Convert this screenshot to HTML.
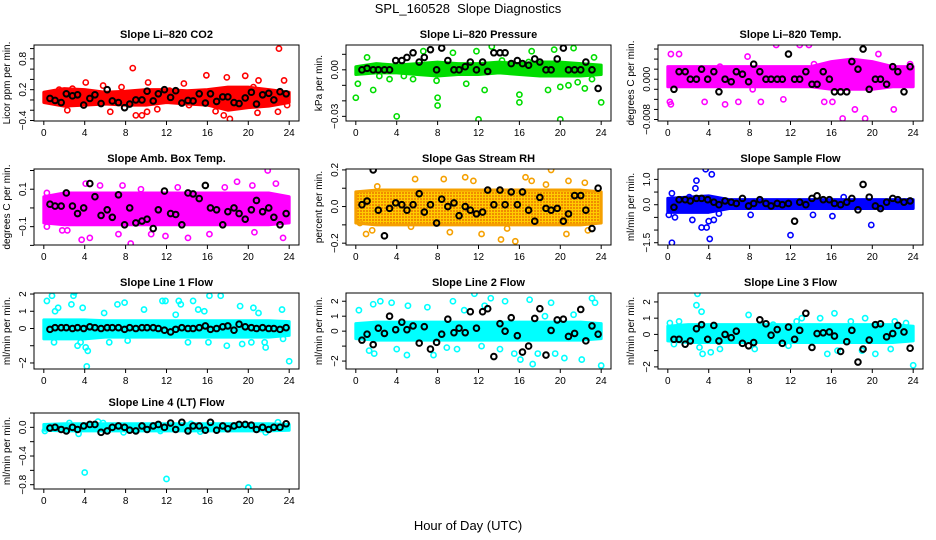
<!DOCTYPE html>
<html><head><meta charset="utf-8"><style>
body{margin:0;background:#fff;}
svg{display:block;font-family:"Liberation Sans",sans-serif;}
</style></head><body>
<svg id="c" width="936" height="540" viewBox="0 0 936 540">
<defs>
<pattern id="rhpat" width="3" height="3" patternUnits="userSpaceOnUse">
<rect width="3" height="3" fill="#ffcc00"/>
<rect width="2" height="2" fill="#f08c00"/>
</pattern>
</defs>
<rect width="936" height="540" fill="#fff"/>
<text x="468" y="13" text-anchor="middle" font-size="13" xml:space="preserve" style="white-space:pre">SPL_160528  Slope Diagnostics</text>
<text x="468" y="530" text-anchor="middle" font-size="13">Hour of Day (UTC)</text>
</svg>
<script>
const xTicks=[0,4,8,12,16,20,24];
const bandHours=[0,2,4,6,8,10,12,14,16,18,20,22,24];
const blkHours=[0.6,1.1,1.7,2.2,2.8,3.3,3.9,4.5,5.0,5.6,6.2,6.7,7.3,7.9,8.4,9.0,9.6,10.1,10.7,11.2,11.8,12.4,12.9,13.5,14.1,14.6,15.2,15.8,16.3,16.9,17.5,18.0,18.6,19.1,19.7,20.3,20.8,21.4,22.0,22.5,23.1,23.7];

const co2Out=[[8.7,0.62],[15.9,0.48],[23,1.0],[19.7,0.47],[17.9,0.44],[21,0.38],[23.5,0.38],[4.1,0.34],[10.2,0.34],[13.7,0.32],[9,-0.3],[9.6,-0.3],[18.2,-0.37],[17.6,-0.3],[22.9,-0.23],[6.5,-0.23],[10.1,-0.23],[2.3,-0.2],[16.8,-0.22],[1.5,0.2],[2.8,0.22],[20.5,0.25],[23.8,-0.1],[12.3,0.18],[20.9,-0.25],[14.2,-0.1],[11.1,-0.18],[5.8,0.28],[7.6,0.25]];
const co2Lo=[-0.05,-0.12,-0.1,-0.08,-0.1,-0.1,-0.05,-0.08,-0.1,-0.2,-0.15,-0.12,-0.05];
const co2Hi=[0.15,0.22,0.2,0.15,0.17,0.2,0.2,0.18,0.2,0.25,0.25,0.2,0.15];
const co2Blk=[0.03,-0.01,-0.05,0.12,0.08,0.1,-0.1,0.03,0.1,-0.07,0.2,-0.02,-0.05,-0.15,-0.08,0.0,0.0,0.17,-0.02,0.12,0.2,0.05,0.18,-0.06,-0.01,-0.02,0.12,-0.06,0.12,-0.03,0.06,0.06,-0.05,-0.07,0.04,0.15,-0.08,0.1,0.13,0.0,0.16,0.12];

const presOut=[[0,-0.018],[0.2,-0.009],[1.7,-0.013],[4,-0.03],[8,-0.018],[8,-0.023],[7.9,-0.007],[12,-0.032],[12.6,-0.013],[16,-0.016],[16,-0.021],[18.8,-0.013],[20,-0.032],[24,-0.021],[20,-0.011],[10.8,-0.009],[22.4,-0.012],[13.3,0.015],[11.8,0.012],[17.2,0.012],[19.4,0.013],[21.3,0.014],[9.5,0.011],[6.6,0.012],[23.3,0.008],[5.6,-0.006],[2.3,-0.004],[3.3,-0.006],[1.1,0.008],[4.7,-0.004],[14.3,0.006],[16.9,0.005],[20.8,-0.01],[21.7,-0.008],[23.1,-0.006]];
const presLo=[-0.003,-0.002,-0.002,-0.003,-0.004,-0.003,-0.003,-0.002,-0.003,-0.004,-0.004,-0.004,-0.003];
const presHi=[0.002,0.004,0.003,0.004,0.005,0.004,0.004,0.005,0.004,0.005,0.005,0.004,0.003];
const presBlk=[0.0,0.001,0.0,0.0,0.0,0.0,0.006,0.006,0.008,0.011,0.005,0.008,0.013,0.0,0.014,0.006,0.0,0.0,0.002,0.005,0.0,0.005,-0.001,0.011,0.011,0.011,0.004,0.006,0.004,0.003,0.007,0.005,0.0,0.0,0.007,0.014,0.0,0.0,0.0,0.005,0.0,-0.012];

const tempOut=[[0.3,0.005],[0.3,-0.005],[0.2,-0.0045],[6.9,-0.0045],[5.6,-0.005],[2.6,-0.001],[8.3,-0.002],[9.1,-0.0045],[12.9,0.0068],[13.8,0.0068],[10.6,0.0068],[1.1,0.005],[17.1,-0.0078],[19.3,-0.0078],[22.1,-0.006],[20.6,0.005],[15.3,-0.0045],[16.1,-0.0045],[17.9,0.003],[7.8,0.0045],[5.1,0.0025],[3.6,-0.0045],[14.3,0.003],[23.7,0.003],[18.3,-0.006],[11.3,-0.004]];
const tempLo=[-0.0015,-0.0015,-0.0015,-0.0015,-0.0015,-0.0015,-0.0015,-0.0015,-0.002,-0.002,-0.002,-0.0015,-0.0015];
const tempHi=[0.0025,0.0025,0.0025,0.0025,0.0025,0.0025,0.0025,0.0025,0.0035,0.004,0.0035,0.0025,0.0025];
const tempBlk=[-0.002,0.0015,0.0015,0.0,0.0,0.002,0.0,0.0015,-0.0025,0.0,-0.0005,0.0015,0.001,-0.0005,0.003,0.0015,0.0,0.0,0.0,0.0,0.005,0.0,0.0,0.0015,-0.001,-0.001,0.0015,0.0,-0.0025,-0.0025,-0.0025,0.0035,0.002,0.006,-0.002,0.0,0.0,-0.001,0.0025,0.0015,-0.0025,0.0025];

const ambOut=[[4.1,0.13],[21.9,0.2],[18.9,0.14],[3.7,-0.17],[8.5,-0.19],[4.5,-0.16],[7.3,-0.14],[10.5,-0.14],[11.9,-0.15],[14.1,-0.16],[23.4,-0.16],[16.2,-0.14],[20.6,-0.13],[0.3,-0.1],[1.8,-0.12],[2.3,-0.12],[0.3,0.08],[5.5,0.12],[7.7,0.12],[13.1,0.11],[17.7,0.11],[20.4,0.12],[22.7,0.13],[9.5,0.1]];
const ambLo=[-0.08,-0.09,-0.09,-0.09,-0.09,-0.09,-0.09,-0.09,-0.09,-0.09,-0.09,-0.09,-0.08];
const ambHi=[0.06,0.08,0.08,0.08,0.08,0.08,0.08,0.08,0.08,0.08,0.08,0.08,0.06];
const ambBlk=[0.02,0.01,0.01,0.08,0.01,-0.03,0.0,0.13,0.06,-0.04,-0.01,-0.05,0.07,-0.09,0.0,-0.08,-0.07,-0.06,-0.11,-0.01,0.09,-0.03,-0.035,-0.09,0.08,0.075,0.05,0.12,0.0,-0.01,-0.09,-0.02,0.0,-0.03,-0.06,-0.01,0.04,-0.02,0.0,-0.05,-0.09,-0.03];

const rhOut=[[1.6,-0.13],[1.0,-0.15],[5.4,-0.11],[5.8,0.15],[8.6,0.15],[10.7,0.16],[11.5,0.14],[12.3,-0.15],[14.2,-0.18],[15.6,-0.19],[16.6,0.16],[19.1,0.2],[20.6,-0.15],[20.8,0.14],[22.4,0.13],[22.7,-0.13],[9.2,-0.14],[14.8,-0.12],[18.6,0.12],[17.2,0.14],[0.4,-0.09],[2.1,0.11]];
const rhLo=[-0.09,-0.1,-0.1,-0.1,-0.1,-0.1,-0.1,-0.1,-0.1,-0.1,-0.1,-0.1,-0.09];
const rhHi=[0.08,0.09,0.09,0.09,0.09,0.09,0.09,0.09,0.09,0.09,0.09,0.09,0.08];
const rhBlk=[0.01,0.03,0.2,-0.02,-0.16,-0.01,0.02,0.01,-0.02,0.01,0.07,-0.03,0.01,-0.09,0.04,0.0,0.02,-0.05,0.0,-0.02,-0.04,-0.03,0.09,0.01,0.09,0.01,0.08,0.01,0.08,-0.02,-0.08,0.05,-0.01,-0.02,-0.01,-0.08,-0.04,0.06,0.06,-0.02,-0.12,0.1];

const sampOut=[[0.4,-1.5],[0.1,-0.4],[0.4,0.45],[2.4,-0.6],[2.7,0.65],[2.8,0.95],[3.3,-0.9],[3.7,1.4],[3.8,-0.9],[4,-0.65],[4.1,-1.35],[4.3,1.2],[4.5,-0.6],[12,-1.2],[19.9,-0.8],[16.1,-0.45],[14.2,-0.4],[8.1,-0.4],[17.2,0.3],[0.7,-0.5],[2.1,0.3],[5.0,-0.35]];
const sampLo=[-0.3,-0.3,-0.3,-0.15,-0.15,-0.15,-0.15,-0.15,-0.15,-0.15,-0.15,-0.15,-0.15];
const sampHi=[0.25,0.3,0.35,0.2,0.2,0.2,0.2,0.2,0.2,0.2,0.2,0.2,0.2];
const sampBlk=[-0.1,0.2,0.2,0.15,0.25,0.25,0.2,0.1,0.0,0.15,0.1,0.05,0.25,-0.05,0.05,0.2,0.05,-0.05,0.05,0.0,0.05,-0.65,0.1,0.0,0.25,0.35,0.2,0.2,0.05,0.0,0.1,0.25,-0.2,0.8,0.3,-0.05,-0.15,0.1,0.25,0.2,0.1,0.15];

const l1Out=[[0.3,1.6],[0.8,1.9],[1.1,1.0],[1.4,1.2],[2.7,1.4],[2.9,1.9],[3.0,2.1],[3.3,-1.0],[3.6,-0.8],[3.8,1.2],[4.1,-1.1],[4.2,-2.2],[4.3,-1.3],[5.9,0.9],[7.2,1.4],[7.9,1.5],[6.4,-0.8],[8.2,-0.7],[9.8,1.1],[11.6,1.6],[11.9,1.6],[13.2,1.6],[13.4,1.4],[14.6,1.6],[14.1,-0.8],[15.1,1.1],[15.7,1.0],[16.2,1.9],[17.3,1.9],[17.9,-1.0],[19.2,1.3],[19.4,-0.9],[20.5,1.2],[20.3,-0.8],[21,0.9],[21.6,-0.8],[21.7,-1.1],[23.3,1.1],[23.4,-0.6],[24,-1.9],[1.0,-0.8],[12.9,0.8],[16.1,-0.8]];
const l1Lo=[-0.6,-0.6,-0.6,-0.5,-0.5,-0.5,-0.5,-0.5,-0.5,-0.5,-0.5,-0.5,-0.4];
const l1Hi=[0.5,0.5,0.5,0.45,0.45,0.45,0.45,0.45,0.45,0.45,0.45,0.45,0.4];
const l1Blk=[-0.05,0.05,0.05,0.05,0.0,0.05,0.0,0.1,0.05,0.0,0.05,0.05,0.05,-0.05,0.05,0.0,0.05,0.05,0.05,0.0,-0.1,-0.2,-0.05,0.05,0.0,0.0,0.05,0.15,-0.05,0.0,0.1,0.15,-0.1,0.25,0.1,0.05,0.0,0.05,0.0,0.0,-0.05,0.05];

const l2Out=[[0.3,1.4],[1.7,1.8],[2.4,2.0],[3.5,1.9],[4.0,-1.2],[5.0,-1.6],[5.1,1.7],[7.0,1.6],[7.6,-1.6],[9.5,2.0],[9.9,-1.2],[11.6,2.5],[12.6,1.7],[13.2,2.2],[14.1,-1.2],[14.6,2.0],[16.1,-1.9],[17.0,2.1],[17.3,-2.2],[17.8,-1.5],[19.1,1.9],[19.5,-1.5],[20.4,-1.8],[22.1,-1.9],[23.1,2.2],[23.4,1.9],[24,-2.3],[1.3,-1.3],[1.8,-1.5],[8.9,-1.1],[10.6,1.4],[12.3,-1.0],[15.5,-1.5],[21.3,1.1],[18.5,1.0]];
const l2Lo=[-0.5,-0.6,-0.6,-0.6,-0.6,-0.6,-0.6,-0.6,-0.6,-0.6,-0.6,-0.6,-0.5];
const l2Hi=[0.5,0.6,0.6,0.6,0.6,0.6,0.6,0.6,0.6,0.6,0.6,0.6,0.5];
const l2Blk=[-0.6,-0.2,-0.9,0.2,-0.15,1.0,0.1,0.6,0.1,0.35,-0.8,0.3,-1.2,-0.75,-0.2,0.8,-0.1,0.2,-0.1,1.3,0.2,1.3,1.5,-1.7,0.5,0.0,0.9,-0.3,-1.4,-1.0,0.85,1.5,-1.6,0.05,0.75,0.8,-0.35,-0.15,1.45,-0.65,0.35,-0.2];

const l3Out=[[2.8,1.8],[2.9,2.5],[3.3,1.4],[3.4,-1.2],[3.1,-0.8],[4.2,-1.1],[5.1,-0.9],[0.2,0.7],[0.6,-0.6],[7.9,1.2],[8.5,-0.9],[15.6,-1.2],[16.3,1.3],[16.6,-1.0],[19.0,-1.0],[19.3,1.0],[20.3,-1.2],[21.8,-0.9],[22.2,0.8],[23.3,0.7],[24,-1.9],[14.9,1.0],[13.1,1.0],[11.8,-0.7],[10.3,0.6],[1.1,0.8],[17.9,0.8],[12.6,0.8]];
const l3Lo=[-0.4,-0.5,-0.5,-0.5,-0.5,-0.5,-0.5,-0.5,-0.5,-0.5,-0.5,-0.5,-0.4];
const l3Hi=[0.5,0.6,0.6,0.6,0.6,0.6,0.6,0.6,0.6,0.6,0.6,0.6,0.5];
const l3Blk=[-0.3,-0.3,-0.6,-0.4,0.35,0.6,-0.3,0.55,-0.4,0.0,-0.2,0.2,-0.55,-0.7,-0.5,0.9,0.65,-0.05,0.3,-0.55,0.45,-0.3,0.25,1.3,-0.8,0.05,0.1,0.15,-0.1,-1.05,-0.45,0.25,-1.7,-0.9,-0.35,0.6,0.65,-0.15,0.05,0.55,0.15,-0.85];

const l4Out=[[4,-0.63],[12,-0.72],[20,-0.84],[3.4,-0.09],[5.3,0.08],[5.8,0.06],[7.8,-0.07],[9,-0.04],[11.4,-0.05],[15.3,-0.06],[21.7,-0.07],[22.9,0.07],[2.5,0.06],[0.1,-0.05],[14.4,0.05]];
const l4Lo=[-0.04,-0.05,-0.05,-0.05,-0.05,-0.05,-0.05,-0.05,-0.05,-0.05,-0.05,-0.05,-0.04];
const l4Hi=[0.04,0.05,0.05,0.05,0.05,0.05,0.05,0.05,0.05,0.05,0.05,0.05,0.04];
const l4Blk=[-0.01,0.0,-0.03,-0.05,0.0,-0.03,0.02,0.04,0.04,-0.07,-0.05,0.0,0.02,0.0,-0.04,-0.05,0.02,-0.03,0.02,0.04,0.0,0.06,-0.03,0.07,-0.05,0.02,0.02,-0.04,0.07,-0.04,0.02,-0.02,0.02,0.04,0.04,0.03,-0.03,0.0,-0.03,0.0,0.0,0.05];

const panels=[
 {id:'co2',title:'Slope Li-820 CO2',yl:'Licor ppm per min.',col:0,row:0,ymin:-0.41,ymax:1.07,ticks:[-0.4,-0.2,0,0.2,0.4,0.6,0.8,1.0],labs:[-0.4,0.2,0.8],dec:1,color:'#ff0000',fill:'#ff0000',out:co2Out,lo:co2Lo,hi:co2Hi,blk:co2Blk},
 {id:'pressure',title:'Slope Li-820 Pressure',yl:'kPa per min.',col:1,row:0,ymin:-0.033,ymax:0.016,ticks:[-0.03,-0.02,-0.01,0,0.01],labs:[-0.03,0],dec:2,color:'#00dd00',fill:'#00dd00',out:presOut,lo:presLo,hi:presHi,blk:presBlk},
 {id:'temp',title:'Slope Li-820 Temp.',yl:'degrees C per min.',col:2,row:0,ymin:-0.0083,ymax:0.0068,ticks:[-0.008,-0.006,-0.004,-0.002,0,0.002,0.004,0.006],labs:[-0.008,0],dec:3,color:'#ff00ff',fill:'#ff00ff',out:tempOut,lo:tempLo,hi:tempHi,blk:tempBlk},
 {id:'ambbox',title:'Slope Amb. Box Temp.',yl:'degrees C per min.',col:0,row:1,ymin:-0.198,ymax:0.208,ticks:[-0.2,-0.1,0,0.1,0.2],labs:[-0.1,0.1],dec:1,color:'#ff00ff',fill:'#ff00ff',out:ambOut,lo:ambLo,hi:ambHi,blk:ambBlk},
 {id:'rh',title:'Slope Gas Stream RH',yl:'percent per min.',col:1,row:1,ymin:-0.21,ymax:0.205,ticks:[-0.2,-0.1,0,0.1,0.2],labs:[-0.2,0,0.2],dec:1,color:'#f5a000',fill:'url(#rhpat)',out:rhOut,lo:rhLo,hi:rhHi,blk:rhBlk},
 {id:'sample',title:'Slope Sample Flow',yl:'ml/min per min.',col:2,row:1,ymin:-1.59,ymax:1.41,ticks:[-1.5,-1,-0.5,0,0.5,1],labs:[-1.5,0,1],dec:1,color:'#0000ff',fill:'#0000ff',out:sampOut,lo:sampLo,hi:sampHi,blk:sampBlk},
 {id:'line1',title:'Slope Line 1 Flow',yl:'ml/min per min.',col:0,row:2,ymin:-2.35,ymax:2.06,ticks:[-2,-1,0,1,2],labs:[-2,0,1,2],dec:0,color:'#00ffff',fill:'#00ffff',out:l1Out,lo:l1Lo,hi:l1Hi,blk:l1Blk},
 {id:'line2',title:'Slope Line 2 Flow',yl:'ml/min per min.',col:1,row:2,ymin:-2.53,ymax:2.55,ticks:[-2,-1,0,1,2],labs:[-2,0,1,2],dec:0,color:'#00ffff',fill:'#00ffff',out:l2Out,lo:l2Lo,hi:l2Hi,blk:l2Blk},
 {id:'line3',title:'Slope Line 3 Flow',yl:'ml/min per min.',col:2,row:2,ymin:-2.13,ymax:2.55,ticks:[-2,-1,0,1,2],labs:[-2,0,1,2],dec:0,color:'#00ffff',fill:'#00ffff',out:l3Out,lo:l3Lo,hi:l3Hi,blk:l3Blk},
 {id:'line4',title:'Slope Line 4 (LT) Flow',yl:'ml/min per min.',col:0,row:3,ymin:-0.86,ymax:0.2,ticks:[-0.8,-0.6,-0.4,-0.2,0,0.2],labs:[-0.8,-0.4,0],dec:1,color:'#00ffff',fill:'#00ffff',out:l4Out,lo:l4Lo,hi:l4Hi,blk:l4Blk}
];
const colLeft=[34,346,658], rowTop=[45,169,293,413], PW=265, PH=76;
const NS='http://www.w3.org/2000/svg';
const svg=document.getElementById('c');
function mk(tag,at,parent){const e=document.createElementNS(NS,tag);for(const k in at)e.setAttribute(k,at[k]);(parent||svg).appendChild(e);return e;}
function fmt(v,d){return (v<0?'\u2212':'')+Math.abs(v).toFixed(d);}
panels.forEach(p=>{
  const L=colLeft[p.col],T=rowTop[p.row];
  const xs=h=>L+(h+0.96)/25.92*PW;
  const ys=v=>T+PH-(v-p.ymin)/(p.ymax-p.ymin)*PH;
  const g=mk('g',{});
  
  
  const clip=mk('clipPath',{id:'cl-'+p.id},g);
  mk('rect',{x:L,y:T,width:PW,height:PH},clip);
  const t=mk('text',{x:L+PW/2,y:T-7,'text-anchor':'middle','font-size':11,'font-weight':'bold'},g);
  t.textContent=p.title.replace(/-/g,'\u2013');
  
  
  const yl=mk('text',{x:0,y:0,'text-anchor':'middle','font-size':10,transform:`translate(${L-24},${T+PH/2}) rotate(-90)`},g);
  yl.textContent=p.yl;
  
  
  const plot=mk('g',{'clip-path':`url(#cl-${p.id})`},g);
  let pts=bandHours.map((h,i)=>xs(h)+','+ys(p.hi[i]));
  pts=pts.concat(bandHours.map((h,i)=>xs(h)+','+ys(p.lo[i])).reverse());
  const band=mk('polygon',{points:pts.join(' '),fill:p.fill,stroke:p.color,'stroke-width':3,'stroke-linejoin':'round'},plot);
  
  
  p.out.forEach(d=>{
    const c=mk('circle',{cx:xs(d[0]),cy:ys(d[1]),r:2.6,fill:'none',stroke:p.color,'stroke-width':1.6},plot);
    
    
  });
  const n=Math.min(blkHours.length,p.blk.length);
  for(let i=0;i<n;i++){
    const c=mk('circle',{cx:xs(blkHours[i]),cy:ys(p.blk[i]),r:2.8,fill:'none',stroke:'#000','stroke-width':2},plot);
    
    
  }
  const box=mk('rect',{x:L,y:T,width:PW,height:PH,fill:'none',stroke:'#000','stroke-width':1},g);
  
  
  xTicks.forEach(h=>{
    mk('line',{x1:xs(h),x2:xs(h),y1:T+PH,y2:T+PH+4,stroke:'#000'},g);
    const tl=mk('text',{x:xs(h),y:T+PH+15,'text-anchor':'middle','font-size':10},g);
    tl.textContent=h;
    
    
  });
  p.ticks.forEach(v=>{mk('line',{x1:L-4,x2:L,y1:ys(v),y2:ys(v),stroke:'#000'},g);});
  p.labs.forEach(v=>{
    const tl=mk('text',{x:0,y:0,'text-anchor':'middle','font-size':10,transform:`translate(${L-8},${ys(v)}) rotate(-90)`},g);
    tl.textContent=fmt(v,p.dec);
    
    
  });
});
</script>
</body></html>
